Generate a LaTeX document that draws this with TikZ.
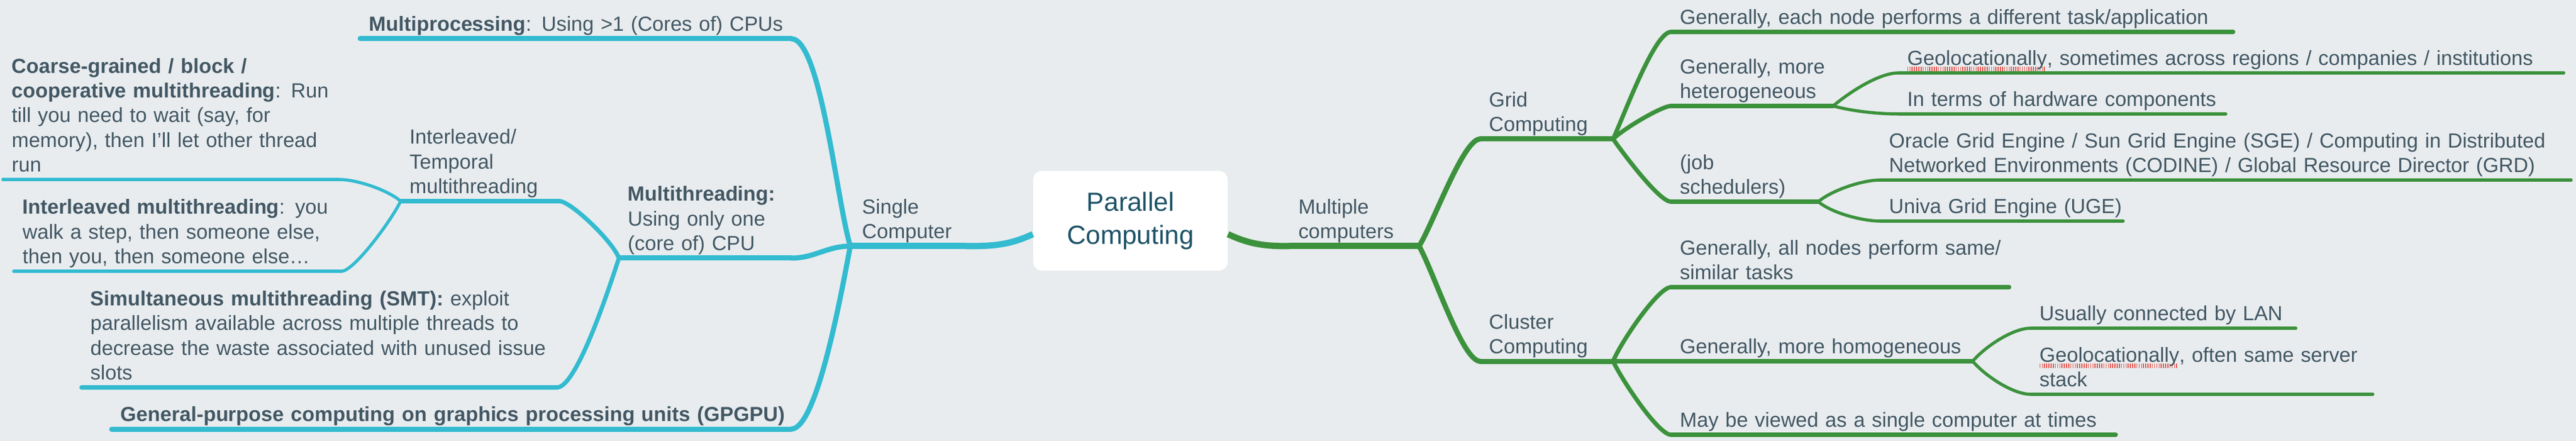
\documentclass[tikz,border=0pt]{standalone}
\usepackage{fontspec}
\setmainfont{Liberation Sans}
\definecolor{bg}{HTML}{E8ECEF}
\definecolor{cyanbr}{HTML}{33BBD0}
\definecolor{greenbr}{HTML}{3C923C}
\definecolor{txt}{HTML}{425763}
\definecolor{titletxt}{HTML}{1E5267}
\definecolor{squig}{HTML}{E5534B}
\newsavebox\spellbox
\newcommand\spell[1]{\sbox\spellbox{#1}\rlap{\color{squig}\leaders\hbox{\rule[-0.6ex]{0.45pt}{0.45ex}\hspace{0.65pt}}\hskip\wd\spellbox}\usebox\spellbox}
\newcommand\leftlines[1]{\begin{tabular}[b]{@{}l@{}}#1\end{tabular}}
\tikzset{
  topic/.style={anchor=south west, inner xsep=0.15cm, inner ysep=0pt, text=txt,
    font=\fontsize{10.2pt}{12.3pt}\selectfont},
  titlebox/.style={fill=white, rounded corners=0.15cm, minimum width=3.41cm, minimum height=1.75cm,
    align=center, text=titletxt, font=\fontsize{13.1pt}{16.5pt}\selectfont},
  lvlone/.style={line width=1.1mm, line cap=round},
  lvltwo/.style={line width=0.9mm, line cap=round},
  lvlthree/.style={line width=0.75mm, line cap=round},
  lvlfour/.style={line width=0.55mm, line cap=round},
  link/.style={out looseness=0.55, in looseness=0.35}
}
\begin{document}
\begin{tikzpicture}
  \fill[bg] (0,0) rectangle (45.2,-7.74);
  \useasboundingbox (0,0) rectangle (45.2,-7.74);

  \node[titlebox] (title) at (19.835,-3.875) {Parallel\\Computing};

  % single computer
  \node[topic, text width=1.6cm, inner xsep=0.2cm] (single) at (14.92,-4.32) {\leftlines{Single\\Computer}};
  \node[topic, text width=7.25cm] (mproc) at (6.32,-0.68) {\leftlines{\textbf{Multiprocessing}: Using >1 (Cores of) CPUs}};
  \node[topic, text width=2.71cm] (mthread) at (10.86,-4.53) {\leftlines{\textbf{Multithreading:}\\Using only one\\(core of) CPU}};
  \node[topic, text width=11.61cm] (gpgpu) at (1.96,-7.53) {\leftlines{\textbf{General-purpose computing on graphics processing units (GPGPU)}}};
  \node[topic, text width=2.47cm] (interl) at (7.03,-3.53) {\leftlines{Interleaved/\\Temporal\\multithreading}};
  \node[topic, text width=8.03cm] (smt) at (1.43,-6.80) {\leftlines{\textbf{Simultaneous multithreading (SMT):} exploit\\parallelism available across multiple threads to\\decrease the waste associated with unused issue\\slots}};
  \node[topic, text width=5.58cm] (coarse) at (0.05,-3.15) {\leftlines{\textbf{Coarse-grained / block /}\\\textbf{cooperative multithreading}: Run\\till you need to wait (say, for\\memory), then I’ll let other thread\\run}};
  \node[topic, text width=5.44cm] (imt) at (0.24,-4.76) {\leftlines{\textbf{Interleaved multithreading}: you\\walk a step, then someone else,\\then you, then someone else…}};

  % multiple computers
  \node[topic, text width=1.96cm, anchor=south east] (multi) at (24.90,-4.32) {\leftlines{Multiple\\computers}};
  \node[topic, text width=2.02cm] (grid) at (25.97,-2.44) {\leftlines{Grid\\Computing}};
  \node[topic, text width=2.02cm] (cluster) at (25.97,-6.34) {\leftlines{Cluster\\Computing}};
  \node[topic, text width=9.55cm] (gen1) at (29.32,-0.56) {\leftlines{Generally, each node performs a different task/application}};
  \node[topic, text width=2.53cm] (hetero) at (29.32,-1.86) {\leftlines{Generally, more\\heterogeneous}};
  \node[topic, text width=2.27cm] (jobs) at (29.32,-3.54) {\leftlines{(job\\schedulers)}};
  \node[topic, text width=11.36cm] (geo1) at (33.31,-1.28) {\leftlines{\spell{Geolocationally}, sometimes across regions / companies / institutions}};
  \node[topic, text width=5.43cm] (hw) at (33.31,-2.00) {\leftlines{In terms of hardware components}};
  \node[topic, text width=11.81cm] (oracle) at (32.99,-3.16) {\leftlines{Oracle Grid Engine / Sun Grid Engine (SGE) / Computing in Distributed\\Networked Environments (CODINE) / Global Resource Director (GRD)}};
  \node[topic, text width=3.95cm] (univa) at (32.99,-3.88) {\leftlines{Univa Grid Engine (UGE)}};
  \node[topic, text width=5.62cm] (gen2) at (29.32,-5.04) {\leftlines{Generally, all nodes perform same/\\similar tasks}};
  \node[topic, text width=4.98cm] (homog) at (29.32,-6.34) {\leftlines{Generally, more homogeneous}};
  \node[topic, text width=7.49cm] (maybe) at (29.32,-7.63) {\leftlines{May be viewed as a single computer at times}};
  \node[topic, text width=4.34cm] (lan) at (35.63,-5.76) {\leftlines{Usually connected by LAN}};
  \node[topic, text width=5.69cm] (geo2) at (35.63,-6.92) {\leftlines{\spell{Geolocationally}, often same server\\stack}};

  % underlines
  \foreach \n in {single} \draw[cyanbr, lvlone] (\n.south west) -- (\n.south east);
  \foreach \n in {mproc,mthread,gpgpu} \draw[cyanbr, lvltwo] (\n.south west) -- (\n.south east);
  \foreach \n in {interl,smt} \draw[cyanbr, lvlthree] (\n.south west) -- (\n.south east);
  \foreach \n in {coarse,imt} \draw[cyanbr, lvlfour] (\n.south west) -- (\n.south east);
  \foreach \n in {multi} \draw[greenbr, lvlone] (\n.south west) -- (\n.south east);
  \foreach \n in {grid,cluster} \draw[greenbr, lvltwo] (\n.south west) -- (\n.south east);
  \foreach \n in {gen1,hetero,jobs,gen2,homog,maybe} \draw[greenbr, lvlthree] (\n.south west) -- (\n.south east);
  \foreach \n in {geo1,hw,oracle,univa,lan,geo2} \draw[greenbr, lvlfour] (\n.south west) -- (\n.south east);

  % connectors, left
  \draw[cyanbr, lvlone, line cap=butt] ([yshift=-0.235cm]title.west) to[out=205, in=0] (single.south east);
  \draw[cyanbr, lvltwo, link] (single.south west) to[out=107, in=0] (mproc.south east);
  \draw[cyanbr, lvltwo, looseness=1] (single.south west) to[out=180, in=0] (mthread.south east);
  \draw[cyanbr, lvltwo, link] (single.south west) to[out=259, in=0] (gpgpu.south east);
  \draw[cyanbr, lvlthree, link] (mthread.south west) to[out=110, in=0] (interl.south east);
  \draw[cyanbr, lvlthree, link] (mthread.south west) to[out=252, in=0] (smt.south east);
  \draw[cyanbr, lvlfour, looseness=0.7] (interl.south west) to[out=140, in=0] (coarse.south east);
  \draw[cyanbr, lvlfour, link] (interl.south west) to[out=245, in=0] (imt.south east);

  % connectors, right
  \draw[greenbr, lvlone, line cap=butt] ([yshift=-0.235cm]title.east) to[out=-25, in=180] (multi.south west);
  \draw[greenbr, lvltwo, link] (multi.south east) to[out=58, in=180] (grid.south west);
  \draw[greenbr, lvltwo, link] (multi.south east) to[out=-60, in=180] (cluster.south west);
  \draw[greenbr, lvlthree, link] (grid.south east) to[out=65, in=180] (gen1.south west);
  \draw[greenbr, lvlthree, link] (grid.south east) to[out=45, in=180] (hetero.south west);
  \draw[greenbr, lvlthree, link] (grid.south east) to[out=-55, in=180] (jobs.south west);
  \draw[greenbr, lvlfour, looseness=0.7] (hetero.south east) to[out=40, in=180] (geo1.south west);
  \draw[greenbr, lvlfour, looseness=0.8] (hetero.south east) to[out=-15, in=180] (hw.south west);
  \draw[greenbr, lvlfour, looseness=0.7] (jobs.south east) to[out=40, in=180] (oracle.south west);
  \draw[greenbr, lvlfour, looseness=0.7] (jobs.south east) to[out=-40, in=180] (univa.south west);
  \draw[greenbr, lvlthree, link] (cluster.south east) to[out=68, in=180] (gen2.south west);
  \draw[greenbr, lvlthree] (cluster.south east) -- (homog.south west);
  \draw[greenbr, lvlthree, link] (cluster.south east) to[out=-65, in=180] (maybe.south west);
  \draw[greenbr, lvlfour, looseness=0.7] (homog.south east) to[out=50, in=180] (lan.south west);
  \draw[greenbr, lvlfour, looseness=0.7] (homog.south east) to[out=-50, in=180] (geo2.south west);
\end{tikzpicture}
\end{document}
